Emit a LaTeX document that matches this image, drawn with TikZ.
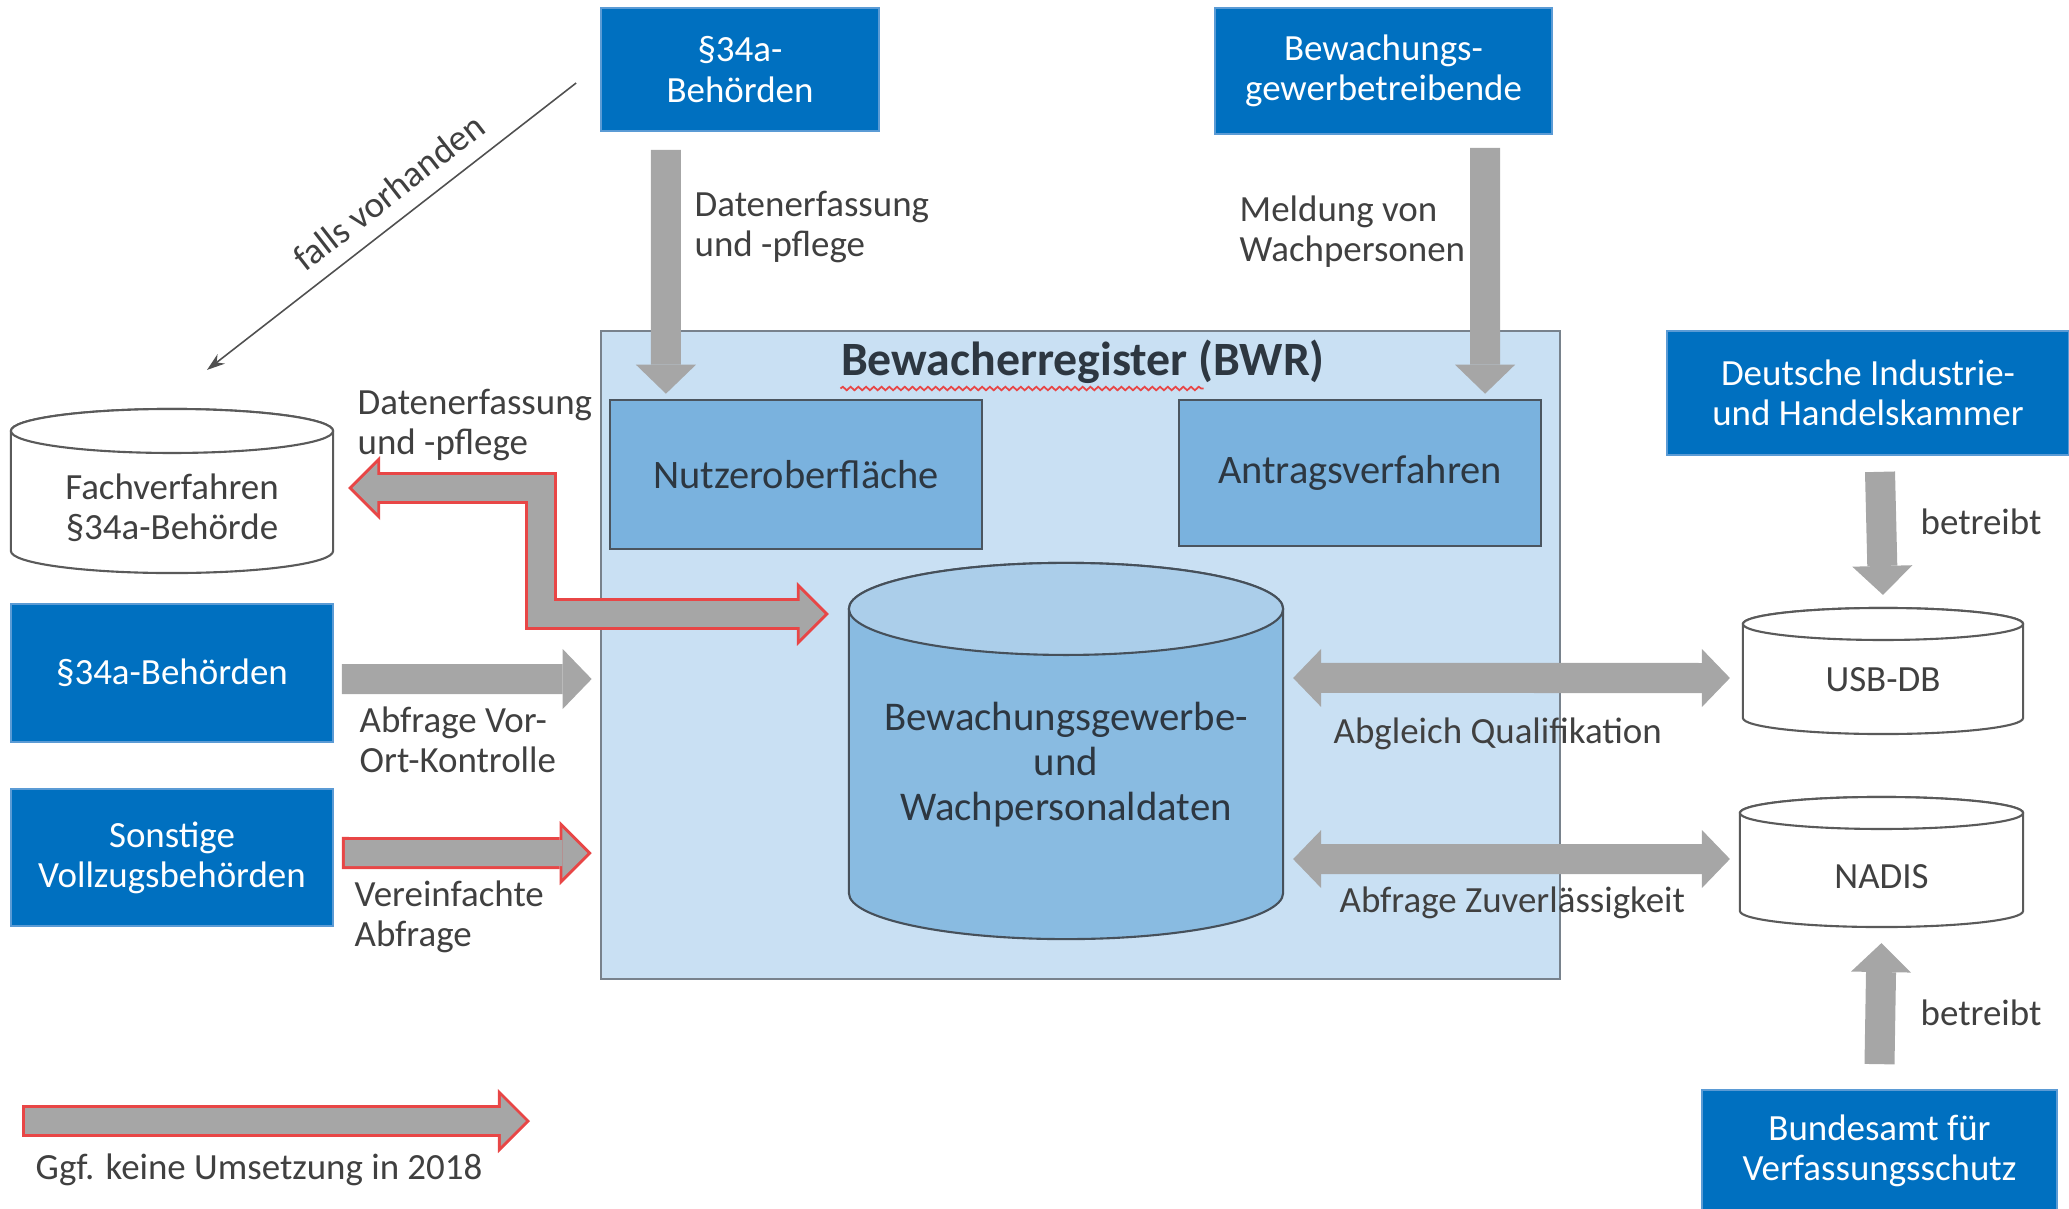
\documentclass[tikz,border=0pt]{standalone}
\usepackage{fontspec}
\setmainfont{Carlito}
\usepackage{tikz}
\usetikzlibrary{positioning}
\usetikzlibrary{shapes.geometric, arrows.meta, decorations.pathmorphing}

\definecolor{bmiBlue}{RGB}{0,112,192}
\definecolor{boxEdge}{RGB}{91,155,213}
\definecolor{regFill}{RGB}{201,224,243}
\definecolor{regEdge}{RGB}{120,130,140}
\definecolor{modFill}{RGB}{122,178,222}
\definecolor{modEdge}{RGB}{75,85,95}
\definecolor{modText}{RGB}{45,55,65}
\definecolor{mainBody}{RGB}{137,187,225}
\definecolor{mainTop}{RGB}{171,206,234}
\definecolor{mainEdge}{RGB}{70,80,90}
\definecolor{dbEdge}{RGB}{90,90,90}
\definecolor{arrowGray}{RGB}{166,166,166}
\definecolor{redLine}{RGB}{232,70,70}
\definecolor{lineGray}{RGB}{80,80,80}
\definecolor{lblText}{RGB}{64,64,64}

\newcommand{\lblfont}{\fontsize{10.5}{11.4}\selectfont}
\newcommand{\modfont}{\fontsize{11.5}{13}\selectfont}
\newcommand{\dbfont}{\fontsize{11.6}{12.8}\selectfont}
\newcommand{\titlefont}{\bfseries\fontsize{13.6}{15}\selectfont}

% database drum around a node: node, half width, cap radius, body fill, top fill, edge
\newcommand{\drawdb}[6]{
	\draw [draw=#6, fill=#4, line width=0.6pt] ([yshift=-#3]#1.north west) -- ([yshift=#3]#1.south west) arc[start angle=180, end angle=360, x radius=#2, y radius=#3] -- ([yshift=-#3]#1.north east) arc[start angle=0, end angle=180, x radius=#2, y radius=#3] -- cycle;
	\draw [draw=#6, fill=#5, line width=0.6pt] ([yshift=-#3]#1.north) ellipse [x radius=#2, y radius=#3];
}

\tikzstyle{bluebox} = [rectangle, draw=boxEdge, line width=0.45pt, fill=bmiBlue, text=white, align=center, font=\lblfont, inner sep=0pt]
\tikzstyle{regbox} = [rectangle, draw=regEdge, line width=0.6pt, fill=regFill]
\tikzstyle{modbox} = [rectangle, draw=modEdge, line width=0.7pt, fill=modFill, text=modText, font=\modfont]
\tikzstyle{dbarea} = [rectangle, inner sep=0pt, outer sep=0pt]
\tikzstyle{dbtext} = [text=lblText, align=center, font=\lblfont, inner sep=0pt]
\tikzstyle{maintext} = [text=modText, align=center, font=\dbfont, inner sep=0pt]
\tikzstyle{titletext} = [text=modText, font=\titlefont, inner sep=0pt]
\tikzstyle{lbl} = [text=lblText, font=\lblfont, align=left, inner sep=0pt, anchor=west]
\tikzstyle{fatarrow} = [draw=arrowGray, line width=0.30cm, -{Triangle[length=0.29cm, width=0.60cm, line width=0pt]}]
\tikzstyle{fatboth} = [draw=arrowGray, line width=0.30cm, {Triangle[length=0.28cm, width=0.58cm, line width=0pt]}-{Triangle[length=0.28cm, width=0.58cm, line width=0pt]}]
\tikzstyle{redouter} = [draw=redLine, line width=0.32cm, line join=miter, -{Triangle[length=0.32cm, width=0.64cm, line width=0pt]}]
\tikzstyle{redinner} = [draw=arrowGray, line width=0.26cm, line join=miter, shorten <=0.03cm, shorten >=0.042cm, -{Triangle[length=0.25cm, width=0.50cm, line width=0pt]}]
\tikzstyle{redouterboth} = [draw=redLine, line width=0.32cm, line join=miter, {Triangle[length=0.32cm, width=0.64cm, line width=0pt]}-{Triangle[length=0.32cm, width=0.64cm, line width=0pt]}]
\tikzstyle{redinnerboth} = [draw=arrowGray, line width=0.26cm, line join=miter, shorten <=0.042cm, shorten >=0.042cm, {Triangle[length=0.25cm, width=0.50cm, line width=0pt]}-{Triangle[length=0.25cm, width=0.50cm, line width=0pt]}]
\tikzstyle{thinarrow} = [draw=lineGray, line width=0.45pt, {Stealth[length=0.18cm, width=0.12cm]}-]
\tikzstyle{squiggle} = [draw=redLine, line width=0.5pt, decorate, decoration={snake, amplitude=0.5pt, segment length=2.2pt}]

\begin{document}
\begin{tikzpicture}[x=0.01cm, y=-0.01cm]

\useasboundingbox (0,0) rectangle (2069,1209);


% Register

	\node (bwr) [regbox, minimum width=9.59cm, minimum height=6.48cm] at (1080.5,655) {};

	\node (bwrTitle) [titletext] at (1083,362) {Bewacherregister (BWR)};

	\node (nutzer) [modbox, minimum width=3.72cm, minimum height=1.49cm] at (796,474.5) {Nutzeroberfläche};

	\node (antrag) [modbox, minimum width=3.62cm, minimum height=1.46cm] at (1360,473) {Antragsverfahren};

	\node (wachDB) [dbarea, minimum width=4.34cm, minimum height=3.76cm] at (1066,751) {};
	\drawdb{wachDB}{2.17cm}{0.46cm}{mainBody}{mainTop}{mainEdge}
	\node (wachText) [maintext] at ([yshift=-0.14cm]wachDB.center) {Bewachungsgewerbe-\\und\\Wachpersonaldaten};


% Top authorities

	\node (behTop) [bluebox, minimum width=2.78cm, minimum height=1.23cm] at (740,69.5) {§34a-\\Behörden};

	\node (gewerbe) [bluebox, minimum width=3.37cm, minimum height=1.26cm] at (1383.5,71) {Bewachungs-\\gewerbetreibende};


% Left side

	\node (fach) [dbarea, minimum width=3.22cm, minimum height=1.64cm] at (172,491) {};
	\drawdb{fach}{1.61cm}{0.22cm}{white}{white}{dbEdge}
	\node (fachText) [dbtext] at ([yshift=-0.17cm]fach.center) {Fachverfahren\\§34a-Behörde};

	\node (behLeft) [bluebox, minimum width=3.22cm, minimum height=1.38cm] at (172,673) {§34a-Behörden};

	\node (sonstige) [bluebox, minimum width=3.22cm, minimum height=1.37cm] at (172,857.5) {Sonstige\\Vollzugsbehörden};


% Right side

	\node (dihk) [bluebox, minimum width=4.02cm, minimum height=1.24cm] at (1868,393) {Deutsche Industrie-\\und Handelskammer};

	\node (usbdb) [dbarea, minimum width=2.80cm, minimum height=1.26cm] at (1883,671) {};
	\drawdb{usbdb}{1.40cm}{0.16cm}{white}{white}{dbEdge}
	\node (usbText) [dbtext] at ([yshift=-0.09cm]usbdb.center) {USB-DB};

	\node (nadis) [dbarea, minimum width=2.83cm, minimum height=1.30cm] at (1881.5,862) {};
	\drawdb{nadis}{1.415cm}{0.16cm}{white}{white}{dbEdge}
	\node (nadisText) [dbtext] at ([yshift=-0.15cm]nadis.center) {NADIS};

	\node (bfv) [bluebox, minimum width=3.55cm, minimum height=1.22cm] at (1879.5,1151) {Bundesamt für\\Verfassungsschutz};


% Free ends

	\coordinate (diagStart) at ([xshift=-0.24cm, yshift=-0.135cm]behTop.west);
	\coordinate (diagEnd) at ([xshift=0.35cm, yshift=0.39cm]fach.north);
	\coordinate (elbowL) at ([xshift=0.15cm, yshift=0.03cm]fach.east);
	\coordinate (elbowBend) at ([xshift=-3.08cm, yshift=1.37cm]wachDB.west);
	\coordinate (elbowR) at ([xshift=-0.20cm, yshift=1.37cm]wachDB.west);
	\coordinate (legendStart) at (22,1121);
	\coordinate (legendEnd) at (530,1121);




% Input arrows
	\draw [fatarrow] ([xshift=-0.74cm, yshift=-0.18cm]behTop.south) -- ([xshift=-1.30cm, yshift=0.05cm]nutzer.north);
	\draw [fatarrow] ([xshift=1.015cm, yshift=-0.13cm]gewerbe.south) -- ([xshift=1.25cm, yshift=0.05cm]antrag.north);

	\draw [fatarrow] ([xshift=0.08cm, yshift=-0.06cm]behLeft.east) -- ([xshift=-0.08cm, yshift=-0.24cm]bwr.west);

	\draw [redouter] ([xshift=0.08cm, yshift=0.045cm]sonstige.east) -- ([xshift=-0.08cm, yshift=-1.98cm]bwr.west);
	\draw [redinner] ([xshift=0.08cm, yshift=0.045cm]sonstige.east) -- ([xshift=-0.08cm, yshift=-1.98cm]bwr.west);


% Fachverfahren exchange
	\draw [thinarrow] (diagEnd) -- node[pos=0.54, sloped, above, inner sep=0.15cm, text=lblText, font=\lblfont]{falls vorhanden} (diagStart);

	\draw [redouterboth] (elbowL) -| (elbowBend) -- (elbowR);
	\draw [redinnerboth] (elbowL) -| (elbowBend) -- (elbowR);


% Checks against the databases
	\draw [fatboth] ([xshift=0.10cm, yshift=0.73cm]wachDB.east) -- ([xshift=-0.13cm, yshift=-0.07cm]usbdb.west);
	\draw [fatboth] ([xshift=0.10cm, yshift=-1.08cm]wachDB.east) -- ([xshift=-0.10cm, yshift=0.03cm]nadis.west);

	\draw [fatarrow] ([xshift=0.12cm, yshift=-0.16cm]dihk.south) -- ([yshift=0.13cm]usbdb.north);
	\draw [fatarrow] ([yshift=0.25cm]bfv.north) -- ([yshift=-0.16cm]nadis.south);


% Legend
	\draw [redouter] (legendStart) -- (legendEnd);
	\draw [redinner] (legendStart) -- (legendEnd);


% Labels
	\node (lblPflegeTop) [lbl] at (694,227) {Datenerfassung\\und -pflege};
	\node (lblMeldung) [lbl] at (1239,232) {Meldung von\\Wachpersonen};
	\node (lblPflegeLeft) [lbl] at (357,425) {Datenerfassung\\und -pflege};
	\node (lblKontrolle) [lbl] at (359,740) {Abfrage Vor-\\Ort-Kontrolle};
	\node (lblVereinfacht) [lbl] at (354,917) {Vereinfachte\\Abfrage};
	\node (lblAbgleich) [lbl] at (1333,734) {Abgleich Qualifikation};
	\node (lblZuverl) [lbl] at (1339,903) {Abfrage Zuverlässigkeit};
	\node (lblBetreibtTop) [lbl] at (1920,522) {betreibt};
	\node (lblBetreibtBot) [lbl] at (1920,1013) {betreibt};
	\node (legendText) [lbl] at (35,1170) {Ggf. keine Umsetzung in 2018};

	\draw [squiggle] ([yshift=-0.04cm]bwrTitle.south west) -- ([xshift=3.63cm, yshift=-0.04cm]bwrTitle.south west);


	\end{tikzpicture}
\end{document}
